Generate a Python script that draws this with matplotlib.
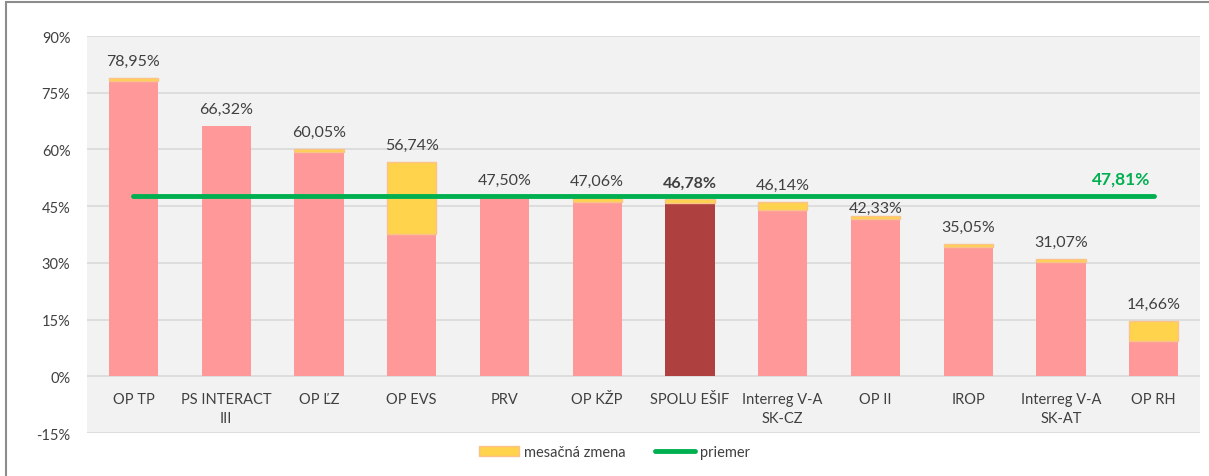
import matplotlib
matplotlib.use("Agg")
import matplotlib.pyplot as plt
from matplotlib.patches import Patch, Rectangle
from matplotlib.lines import Line2D

plt.rcParams['font.family'] = ['Lato', 'DejaVu Sans']

categories = ["OP TP", "PS INTERACT\nIII", "OP ĽZ", "OP EVS", "PRV", "OP KŽP",
              "SPOLU EŠIF", "Interreg V-A\nSK-CZ", "OP II", "IROP",
              "Interreg V-A\nSK-AT", "OP RH"]
totals = [78.95, 66.32, 60.05, 56.74, 47.50, 47.06, 46.78, 46.14, 42.33, 35.05, 31.07, 14.66]
change = [0.95, 0.0, 0.75, 19.1, 0.0, 1.0, 1.0, 2.2, 0.8, 0.9, 0.9, 5.2]
average = 47.81
highlight = "SPOLU EŠIF"
yticks = [-15, 0, 15, 30, 45, 60, 75, 90]

pink = "#FF9999"
dark = "#AE4140"
yellow = "#FFD34C"
peach = "#F9C38B"
green = "#00B050"
txt = "#404040"

fig = plt.figure(figsize=(12.09, 4.77), dpi=100)
ax = fig.add_axes([0.072, 0.0901, 0.9206, 0.8323])
ax.set_facecolor("#F2F2F2")

x = list(range(len(categories)))
base = [t - c for t, c in zip(totals, change)]
colors = [dark if c == highlight else pink for c in categories]
edges = [peach if c > 0 else "none" for c in change]

ax.bar(x, base, width=0.53, color=colors, zorder=2)
ax.bar(x, change, bottom=base, width=0.53, color=yellow, edgecolor=edges,
       linewidth=1, zorder=2)
ax.plot([x[0], x[-1]], [average, average], color=green, lw=3.5,
        solid_capstyle="round", zorder=3)

for i, (c, t) in enumerate(zip(categories, totals)):
    label = f"{t:.2f}%".replace(".", ",")
    # label sits above the bar; if it would sit on the average line, keep it just below
    ly = t + 4.5
    if average - 3 < ly < average + 1 and t < average - 2:
        ly = average - 3.3
    ax.text(i, ly, label, ha="center", va="center", fontsize=11.5, color=txt,
            fontweight="bold" if c == highlight else "normal")
    ax.annotate(c, (i, 0), xytext=(0, -11), textcoords="offset points",
                ha="center", va="top", fontsize=10.5, color=txt,
                linespacing=1.45)

ax.text(x[-1] - 0.35, average + 4.5, f"{average:.2f}%".replace(".", ","),
        ha="center", va="center", fontsize=12.5, color=green, fontweight="bold")

ax.set_xlim(-0.5, len(categories) - 0.5)
ax.set_ylim(-15, 90)
ax.set_yticks(yticks)
ax.set_yticklabels([f"{v}%" for v in yticks], fontsize=10.5, color=txt)
ax.set_xticks([])
ax.tick_params(axis="y", length=0, pad=12)
ax.grid(axis="y", color="#D9D9D9", lw=1.2, zorder=0)
for s in ax.spines.values():
    s.set_visible(False)

handles = [Patch(facecolor=yellow, edgecolor=peach, linewidth=1),
           Line2D([0], [0], color=green, lw=3.5, solid_capstyle="round")]
fig.legend(handles, ["mesačná zmena", "priemer"], loc="center",
           bbox_to_anchor=(0.508, 0.05), ncol=2, frameon=False,
           fontsize=10.5, handlelength=2.8, handletextpad=0.3,
           columnspacing=2.0, labelcolor=txt)

fig.patches.append(Rectangle((6 / 1209, -0.02), 1.02, 1 - 3 / 477 + 0.02,
                             transform=fig.transFigure, fill=False,
                             edgecolor="#8C8C8C", lw=1.5))

fig.savefig("out.png", dpi=100)
